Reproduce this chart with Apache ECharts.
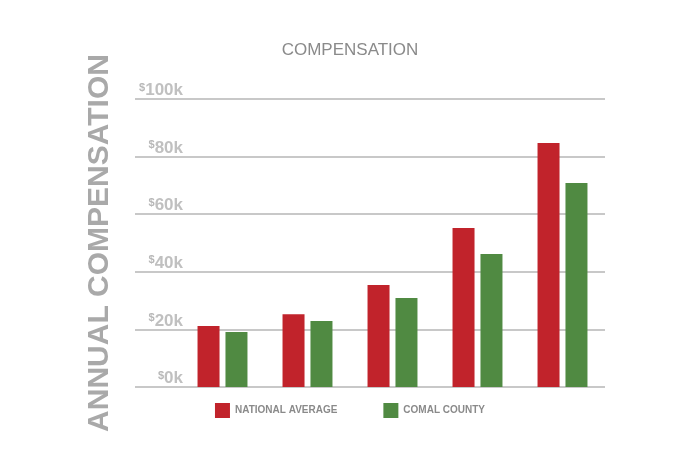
<!DOCTYPE html>
<html>
<head>
<meta charset="utf-8">
<script src="https://cdn.jsdelivr.net/npm/echarts@6/dist/echarts.min.js"></script>
<style>html,body{margin:0;padding:0;background:#fff}#main{width:700px;height:453px}</style>
</head>
<body>
<div id="main"></div>
<script>
// 数据
var categories = ['A', 'B', 'C', 'D', 'E'];
var nationalAverage = [21.2, 25.3, 35.4, 55.2, 84.7];
var comalCounty = [19.1, 22.9, 30.9, 46.2, 70.8];

var myChart = echarts.init(document.getElementById('main'));
var font = '"Liberation Sans Narrow", "Liberation Sans", sans-serif';
var option = {
    backgroundColor: '#fff',
    title: {
        text: 'COMPENSATION',
        left: 'center',
        top: 37,
        textStyle: { color: '#8a8a8a', fontSize: 17, fontWeight: 'normal', fontFamily: font }
    },
    legend: {
        bottom: 30,
        left: 'center',
        itemWidth: 15,
        itemHeight: 15,
        itemGap: 46,
        icon: 'rect',
        data: ['NATIONAL AVERAGE', 'COMAL COUNTY'],
        textStyle: { color: '#8a8a8a', fontSize: 10, fontWeight: 'bold', fontFamily: font }
    },
    grid: [
        { left: 135, right: 95, top: 99, bottom: 66 },
        { left: 180, right: 95, top: 99, bottom: 66 }
    ],
    xAxis: [
        { type: 'category', gridIndex: 0, data: categories, show: false },
        { type: 'category', gridIndex: 1, data: categories, show: false }
    ],
    yAxis: [
        {
            type: 'value', gridIndex: 0, min: 0, max: 100, interval: 20,
            name: 'ANNUAL COMPENSATION',
            nameLocation: 'middle',
            nameGap: 20,
            nameTextStyle: { color: '#a9a9a9', fontSize: 30, fontWeight: 'bold', fontFamily: font },
            axisLine: { show: false },
            axisTick: { show: false },
            splitLine: { lineStyle: { color: '#c8c8c8', width: 2 } },
            axisLabel: {
                margin: -48,
                align: 'right',
                verticalAlign: 'bottom',
                formatter: function (v) { return '{s|$}{n|' + v + 'k}'; },
                rich: {
                    s: { color: '#b8b8b8', fontSize: 11, fontWeight: 'bold', fontFamily: font, verticalAlign: 'top', padding: [0, 0, 6, 0] },
                    n: { color: '#c0c0c0', fontSize: 17, fontWeight: 'bold', fontFamily: font }
                }
            }
        },
        { type: 'value', gridIndex: 1, min: 0, max: 100, show: false }
    ],
    series: [
        {
            name: 'NATIONAL AVERAGE', type: 'bar', xAxisIndex: 1, yAxisIndex: 1,
            barWidth: 22, barGap: '27%',
            itemStyle: { color: '#c1232b' },
            data: nationalAverage
        },
        {
            name: 'COMAL COUNTY', type: 'bar', xAxisIndex: 1, yAxisIndex: 1,
            barWidth: 22, barGap: '27%',
            itemStyle: { color: '#508a42' },
            data: comalCounty
        }
    ]
};
myChart.setOption(option, true);
</script>
</body>
</html>
